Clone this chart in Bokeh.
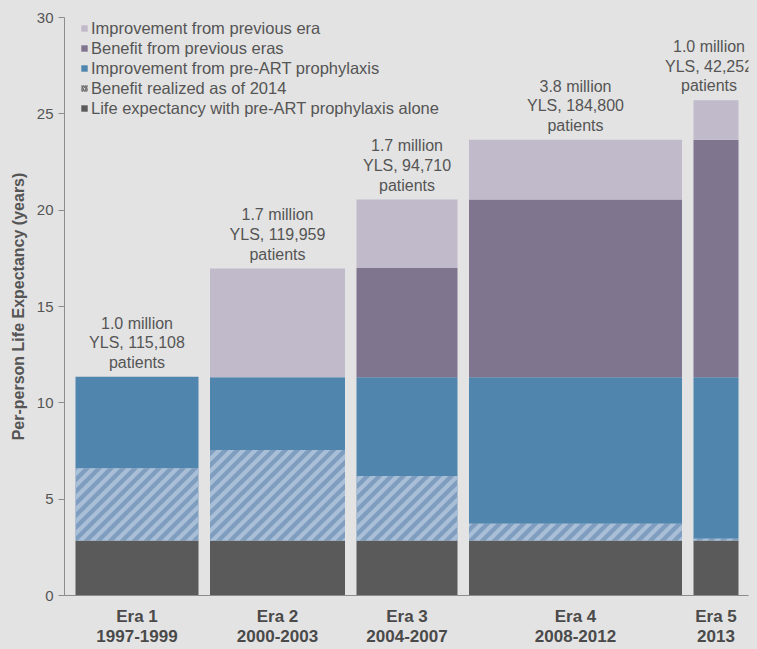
from bokeh.plotting import figure
from bokeh.models import (Range1d, FixedTicker, Legend, LegendItem, Label, ColumnDataSource)
from bokeh.embed import file_html
from bokeh.resources import INLINE
import numpy as np

# ---- data ----
eras = ["Era 1\n1997-1999", "Era 2\n2000-2003", "Era 3\n2004-2007", "Era 4\n2008-2012", "Era 5\n2013"]
# relative bar widths as drawn (variable-width bars)
era_width = [123, 135, 101, 213, 45]
life_exp_base = [2.85, 2.85, 2.85, 2.85, 2.85]
benefit_realized = [3.75, 4.70, 3.35, 0.87, 0.10]
prophylaxis_rest = [4.75, 3.78, 5.13, 7.61, 8.38]
benefit_prev_eras = [0.0, 0.0, 5.67, 9.22, 12.32]
improvement_prev_era = [0.0, 5.64, 3.55, 3.10, 2.05]
annotations = [
    "1.0 million\nYLS, 115,108\npatients",
    "1.7 million\nYLS, 119,959\npatients",
    "1.7 million\nYLS, 94,710\npatients",
    "3.8 million\nYLS, 184,800\npatients",
    "1.0 million\nYLS, 42,252\npatients",
]
legend_names = [
    "Improvement from previous era",
    "Benefit from previous eras",
    "Improvement from pre-ART prophylaxis",
    "Benefit realized as of 2014",
    "Life expectancy with pre-ART prophylaxis alone",
]
y_ticks = [0, 5, 10, 15, 20, 25, 30]

# ---- styling ----
BG = "#e3e3e3"
TXT = "#555555"
C_BASE = "#5a5a5a"
C_BLUE = "#5085ad"
C_HATCH_DARK = "#7e9dbf"
C_HATCH_LIGHT = "#a9bed7"
C_DPURP = "#80758f"
C_LPURP = "#c0bacb"
FONT = "Liberation Sans"

W, H = 757, 649
B_LEFT, B_RIGHT, B_TOP, B_BOTTOM = 64, 9, 17, 52
X_MAX, Y_MAX = 684.0, 30.0
frame_w = W - B_LEFT - B_RIGHT
frame_h = H - B_TOP - B_BOTTOM

gap = 11.5
lefts = []
x = 11.0
for w in era_width:
    lefts.append(x)
    x += w + gap
lefts = np.array(lefts)
rights = lefts + np.array(era_width)
centers = (lefts + rights) / 2.0

p = figure(width=W, height=H, output_backend="svg", toolbar_location=None,
           x_range=Range1d(0, X_MAX), y_range=Range1d(0, Y_MAX),
           min_border_left=B_LEFT, min_border_right=B_RIGHT,
           min_border_top=B_TOP, min_border_bottom=B_BOTTOM,
           background_fill_color=BG, border_fill_color=BG, outline_line_color=None)
p.xgrid.visible = False
p.ygrid.visible = False

segs = [
    (life_exp_base, dict(fill_color=C_BASE)),
    (benefit_realized, dict(fill_color=C_HATCH_DARK)),
    (prophylaxis_rest, dict(fill_color=C_BLUE)),
    (benefit_prev_eras, dict(fill_color=C_DPURP)),
    (improvement_prev_era, dict(fill_color=C_LPURP)),
]
bottom = np.zeros(5)
renderers = []
bounds = []
for vals, style in segs:
    v = np.array(vals)
    src = ColumnDataSource(dict(left=lefts, right=rights, bottom=bottom.copy(), top=bottom + v))
    r = p.quad(left="left", right="right", bottom="bottom", top="top", source=src,
               line_color=None, **style)
    renderers.append(r)
    bounds.append((bottom.copy(), bottom + v))
    bottom = bottom + v
tops = bottom

# diagonal stripes for the "benefit realized" layer (built in screen-proportional space)
kx = frame_w / X_MAX
ky = frame_h / Y_MAX


def clip(pts, g):
    out = []
    n = len(pts)
    for i in range(n):
        P, Q = pts[i], pts[(i + 1) % n]
        gp, gq = g(P), g(Q)
        if gp >= 0:
            out.append(P)
        if (gp >= 0) != (gq >= 0):
            t = gp / (gp - gq)
            out.append((P[0] + t * (Q[0] - P[0]), P[1] + t * (Q[1] - P[1])))
    return out


period, stripe = 12.0, 6.0
sxs, sys_ = [], []
hb, ht = bounds[1]
for L, R, b0, t0 in zip(lefts, rights, hb, ht):
    if t0 - b0 <= 0:
        continue
    rect = [(L * kx, b0 * ky), (R * kx, b0 * ky), (R * kx, t0 * ky), (L * kx, t0 * ky)]
    cmin = np.floor((b0 * ky - R * kx) / period) * period
    c = cmin
    while c < t0 * ky - L * kx:
        poly = clip(rect, lambda P, c=c: (P[1] - P[0]) - c)
        if poly:
            poly = clip(poly, lambda P, c=c: c + stripe - (P[1] - P[0]))
        if len(poly) >= 3:
            sxs.append([q[0] / kx for q in poly])
            sys_.append([q[1] / ky for q in poly])
        c += period
p.patches(xs=sxs, ys=sys_, fill_color=C_HATCH_LIGHT, line_color=None)

# legend-only swatch for the hatched layer (one point placed off-range so it is not seen)
hatch_swatch = p.quad(left=[-10], right=[-5], bottom=[-10], top=[-5], fill_alpha=0, line_color=None,
                      hatch_pattern="/", hatch_color="#6a6a6a", hatch_scale=4, hatch_weight=1.6)

for i, (cx, t, txt) in enumerate(zip(centers, tops, annotations)):
    p.add_layout(Label(x=cx, y=t, text=txt, text_align="center", text_baseline="bottom",
                       x_offset=(-7 if i == len(centers) - 1 else 0),
                       y_offset=6, text_font=FONT, text_font_size="16px", text_color=TXT,
                       text_line_height=1.15))

# axes
p.yaxis.ticker = FixedTicker(ticks=y_ticks)
p.yaxis.axis_label = "Per-person Life Expectancy (years)"
p.yaxis.axis_label_text_font = FONT
p.yaxis.axis_label_text_font_style = "bold"
p.yaxis.axis_label_text_font_size = "16px"
p.yaxis.axis_label_text_color = TXT
p.yaxis.axis_label_standoff = 7
p.yaxis.major_label_text_font = FONT
p.yaxis.major_label_text_font_size = "15px"
p.yaxis.major_label_text_color = TXT
p.yaxis.axis_line_color = "#8c8c8c"
p.yaxis.major_tick_line_color = "#8c8c8c"
p.yaxis.major_tick_out = 6
p.yaxis.major_tick_in = 0
p.yaxis.minor_tick_line_color = None
p.yaxis.major_label_standoff = 5

p.xaxis.ticker = FixedTicker(ticks=list(centers))
p.xaxis.major_label_overrides = {float(c): e for c, e in zip(centers, eras)}
p.xaxis.major_label_text_font = FONT
p.xaxis.major_label_text_font_style = "bold"
p.xaxis.major_label_text_font_size = "17px"
p.xaxis.major_label_text_line_height = 1.08
p.xaxis.major_label_text_color = "#4a4a4a"
p.xaxis.major_label_standoff = 5
p.xaxis.axis_line_color = "#8c8c8c"
p.xaxis.major_tick_line_color = None
p.xaxis.minor_tick_line_color = None

legend_renderers = [renderers[4], renderers[3], renderers[2], hatch_swatch, renderers[0]]
items = [LegendItem(label=n, renderers=[r]) for n, r in zip(legend_names, legend_renderers)]
legend = Legend(items=items, location=(16, int(frame_h - 103)), background_fill_alpha=0,
                border_line_color=None, padding=0, margin=0, spacing=0,
                glyph_width=8, glyph_height=8, label_height=20, label_standoff=3,
                label_text_font=FONT, label_text_font_size="16.5px", label_text_color=TXT)
p.add_layout(legend)

html = file_html(p, INLINE)
html = html.replace("<head>", "<head><style>html,body{background:#e3e3e3;}</style>", 1)
open("out.html", "w").write(html)
